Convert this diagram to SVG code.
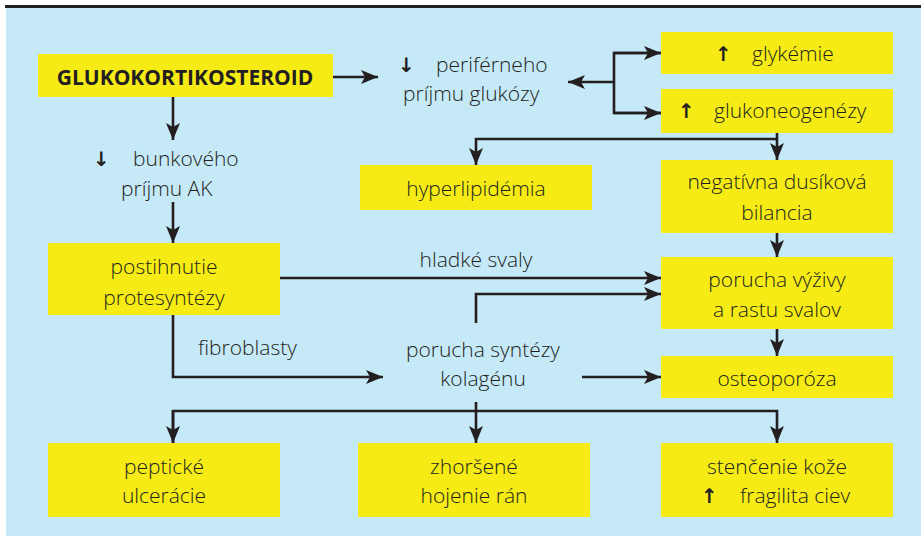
<svg xmlns="http://www.w3.org/2000/svg" width="921" height="536" viewBox="0 0 921 536">
<defs>
<style>
.bg{fill:#c6e9f8}
.box{fill:#f6eb14}
text{font-family:"Open Sans","Noto Sans","Liberation Sans",sans-serif;font-size:21px;font-weight:300;fill:#231f20}
.c{text-anchor:middle}
.b{font-weight:bold;font-size:21px}
.ar{font-family:"DejaVu Sans",sans-serif;font-size:20px;font-weight:bold}
.ln{fill:none;stroke:#231f20;stroke-width:2.6}
</style>
<marker id="ah" markerUnits="userSpaceOnUse" markerWidth="18" markerHeight="14" refX="17" refY="7" orient="auto">
<path d="M0,0 L17,7 L0,14 L4,7 Z" fill="#231f20"/>
</marker>
</defs>
<rect x="0" y="0" width="921" height="536" fill="#ffffff"/>
<rect class="bg" x="6" y="7" width="915" height="529"/>
<rect x="5" y="5" width="916" height="3" fill="#231f20"/>

<g id="connectors">
<path class="ln" d="M173,97 V140" marker-end="url(#ah)"/>
<path class="ln" d="M173,202 V243" marker-end="url(#ah)"/>
<path class="ln" d="M333,77 H378" marker-end="url(#ah)"/>
<path class="ln" d="M661,53 H614 V113 H661" />
<path class="ln" d="M614,53 H661" marker-end="url(#ah)"/>
<path class="ln" d="M614,113 H661" marker-end="url(#ah)"/>
<path class="ln" d="M614,82 H568" marker-end="url(#ah)"/>
<path class="ln" d="M777,133 V160" marker-end="url(#ah)"/>
<path class="ln" d="M777,139 H476 V165" marker-end="url(#ah)"/>
<path class="ln" d="M777,233 V257" marker-end="url(#ah)"/>
<path class="ln" d="M777,329 V356" marker-end="url(#ah)"/>
<path class="ln" d="M280,278 H661" marker-end="url(#ah)"/>
<path class="ln" d="M476,323 V294 H661" marker-end="url(#ah)"/>
<path class="ln" d="M173,315 V377 H383" marker-end="url(#ah)"/>
<path class="ln" d="M582,377 H661" marker-end="url(#ah)"/>
<path class="ln" d="M476,402 V411"/>
<path class="ln" d="M173,443 V411 H777 V443" marker-end="url(#ah)"/>
<path class="ln" d="M173,411 V443" marker-end="url(#ah)"/>
<path class="ln" d="M476,411 V443" marker-end="url(#ah)"/>
</g>

<g id="n-gluko">
<rect class="box" x="38" y="54" width="295" height="43"/>
<text class="c b" x="185" y="85">GLUKOKORTIKOSTEROID</text>
</g>

<g id="n-periferneho">
<text x="398" y="72"><tspan class="ar">↓</tspan><tspan x="436">periférneho</tspan></text>
<text x="403" y="101">príjmu glukózy</text>
</g>

<g id="n-glykemie">
<rect class="box" x="661" y="32" width="232" height="42"/>
<text x="715" y="61"><tspan class="ar">↑</tspan><tspan x="752">glykémie</tspan></text>
</g>

<g id="n-glukoneogenezy">
<rect class="box" x="661" y="89" width="232" height="44"/>
<text x="678" y="118"><tspan class="ar">↑</tspan><tspan x="714">glukoneogenézy</tspan></text>
</g>

<g id="n-bunkoveho">
<text x="93" y="166"><tspan class="ar">↓</tspan><tspan x="133">bunkového</tspan></text>
<text x="121" y="196">príjmu AK</text>
</g>

<g id="n-hyperlipidemia">
<rect class="box" x="360" y="165" width="232" height="45"/>
<text class="c" x="476" y="196">hyperlipidémia</text>
</g>

<g id="n-negativna">
<rect class="box" x="661" y="160" width="232" height="73"/>
<text class="c" x="777" y="189">negatívna dusíková</text>
<text class="c" x="777" y="220">bilancia</text>
</g>

<g id="n-postihnutie">
<rect class="box" x="48" y="243" width="232" height="72"/>
<text class="c" x="164" y="274">postihnutie</text>
<text class="c" x="164" y="305">protesyntézy</text>
</g>

<g id="n-hladke">
<text class="c" x="476" y="267">hladké svaly</text>
</g>

<g id="n-porucha-vyzivy">
<rect class="box" x="661" y="257" width="232" height="72"/>
<text class="c" x="777" y="287">porucha výživy</text>
<text class="c" x="777" y="317">a rastu svalov</text>
</g>

<g id="n-fibroblasty">
<text x="198" y="355">fibroblasty</text>
</g>

<g id="n-porucha-syntezy">
<text class="c" x="483" y="357">porucha syntézy</text>
<text class="c" x="483" y="386">kolagénu</text>
</g>

<g id="n-osteoporoza">
<rect class="box" x="661" y="356" width="232" height="42"/>
<text class="c" x="777" y="386">osteoporóza</text>
</g>

<g id="n-peptické">
<rect class="box" x="48" y="443" width="232" height="74"/>
<text class="c" x="164" y="474">peptické</text>
<text class="c" x="164" y="503">ulcerácie</text>
</g>

<g id="n-zhorsene">
<rect class="box" x="358" y="443" width="232" height="74"/>
<text class="c" x="474" y="474">zhoršené</text>
<text class="c" x="474" y="503">hojenie rán</text>
</g>

<g id="n-stencenie">
<rect class="box" x="661" y="443" width="232" height="74"/>
<text class="c" x="777" y="474">stenčenie kože</text>
<text x="701" y="503"><tspan class="ar">↑</tspan><tspan x="740">fragilita ciev</tspan></text>
</g>
</svg>
